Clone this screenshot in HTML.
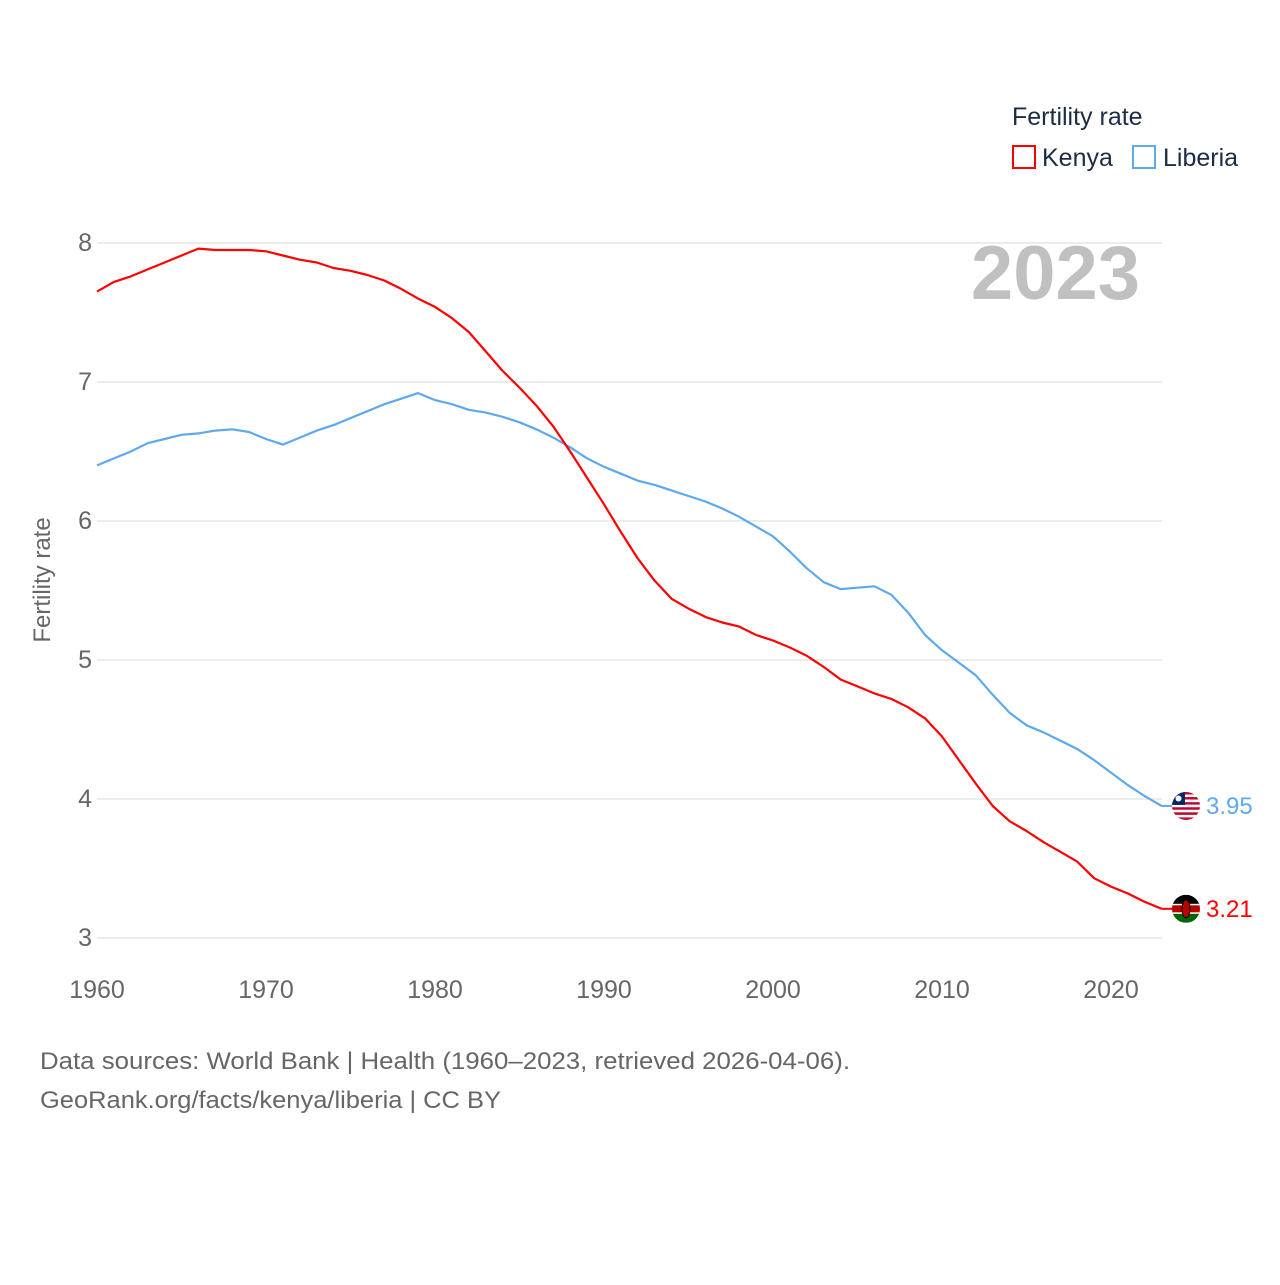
<!DOCTYPE html>
<html><head><meta charset="utf-8">
<style>
html,body{margin:0;padding:0;background:#fff;}
body{width:1280px;height:1280px;overflow:hidden;font-family:"Liberation Sans",sans-serif;}
svg text{font-family:"Liberation Sans",sans-serif;}
</style></head>
<body>
<svg id="chart" width="1280" height="1280" viewBox="0 0 1280 1280" xmlns="http://www.w3.org/2000/svg">
  <g id="grid"></g>
  <g id="yticks"></g>
  <g id="xticks"></g>
  <text x="50" y="580" transform="rotate(-90 50 580)" text-anchor="middle" font-size="24" fill="#666">Fertility rate</text>
  <text x="1140" y="299" text-anchor="end" font-size="76" font-weight="bold" fill="#c0c0c0">2023</text>
  <g>
    <text x="1012" y="125" font-size="25" fill="#1d2b45">Fertility rate</text>
    <g>
      <rect x="1013" y="146" width="22" height="22" fill="none" stroke="#ff0000" stroke-width="2"/>
      <text x="1042" y="166" font-size="25" fill="#1d2b45">Kenya</text>
    </g>
    <g>
      <rect x="1133" y="146" width="22" height="22" fill="none" stroke="#5ea8ee" stroke-width="2"/>
      <text x="1163" y="166" font-size="25" fill="#1d2b45">Liberia</text>
    </g>
  </g>
  <g id="series"></g>
  <g id="endlabels"></g>
  <text x="40" y="1069" font-size="24" fill="#666" textLength="810" lengthAdjust="spacingAndGlyphs">Data sources: World Bank | Health (1960–2023, retrieved 2026-04-06).</text>
  <text x="40" y="1108" font-size="24" fill="#666" textLength="461" lengthAdjust="spacingAndGlyphs">GeoRank.org/facts/kenya/liberia | CC BY</text>
</svg>
<script>
const years = [];
for (let y = 1960; y <= 2023; y++) years.push(y);
const kenya = [7.65,7.72,7.76,7.81,7.86,7.91,7.96,7.95,7.95,7.95,7.94,7.91,7.88,7.86,7.82,7.80,7.77,7.73,7.67,7.60,7.54,7.46,7.36,7.22,7.08,6.96,6.83,6.68,6.50,6.31,6.12,5.92,5.73,5.57,5.44,5.37,5.31,5.27,5.24,5.18,5.14,5.09,5.03,4.95,4.86,4.81,4.76,4.72,4.66,4.58,4.45,4.28,4.11,3.95,3.84,3.77,3.69,3.62,3.55,3.43,3.37,3.32,3.26,3.21];
const liberia = [6.40,6.45,6.50,6.56,6.59,6.62,6.63,6.65,6.66,6.64,6.59,6.55,6.60,6.65,6.69,6.74,6.79,6.84,6.88,6.92,6.87,6.84,6.80,6.78,6.75,6.71,6.66,6.60,6.53,6.45,6.39,6.34,6.29,6.26,6.22,6.18,6.14,6.09,6.03,5.96,5.89,5.78,5.66,5.56,5.51,5.52,5.53,5.47,5.34,5.18,5.07,4.98,4.89,4.75,4.62,4.53,4.48,4.42,4.36,4.28,4.19,4.10,4.02,3.95];
const yTicks = [3,4,5,6,7,8];
const xTicks = [1960,1970,1980,1990,2000,2010,2020];

const NS = "http://www.w3.org/2000/svg";
const xScale = v => 97 + (v - 1960) * (1111 - 97) / 60;
const yScale = v => 938 - (v - 3) * (938 - 243) / 5;
function mk(tag, attrs, parent) {
  const e = document.createElementNS(NS, tag);
  for (const k in attrs) e.setAttribute(k, attrs[k]);
  parent.appendChild(e);
  return e;
}
const grid = document.getElementById('grid');
const yt = document.getElementById('yticks');
yTicks.forEach(t => {
  const l = mk('line', {x1: 97, x2: 1162, y1: yScale(t), y2: yScale(t), stroke: '#e6e6e6', 'stroke-width': 1.5}, grid);
  
  
  const tx = mk('text', {x: 92, y: yScale(t) + 8, 'text-anchor': 'end', 'font-size': 25, fill: '#666'}, yt);
  tx.textContent = t;
  
  
});
const xt = document.getElementById('xticks');
xTicks.forEach(t => {
  const tx = mk('text', {x: xScale(t), y: 998, 'text-anchor': 'middle', 'font-size': 25, fill: '#666'}, xt);
  tx.textContent = t;
  
  
});
const ser = document.getElementById('series');
function line(vals, color, name) {
  const d = vals.map((v, i) => (i ? 'L' : 'M') + xScale(years[i]).toFixed(1) + ',' + yScale(v).toFixed(1)).join(' ');
  const p = mk('path', {d: d, fill: 'none', stroke: color, 'stroke-width': 2.2, 'stroke-linejoin': 'round'}, ser);
  
  
}
line(liberia, '#5ea8ee', 'liberia-line');
line(kenya, '#ff0000', 'kenya-line');

const el = document.getElementById('endlabels');
function endLabel(vals, color, name, flag) {
  const v = vals[vals.length - 1];
  const x = xScale(years[years.length - 1]), y = yScale(v);
  const g = mk('g', {}, el);
  
  
  mk('line', {x1: x, x2: x + 12, y1: y, y2: y, stroke: color, 'stroke-width': 2}, g);
  const cx = 1186;
  const clipId = 'clip-' + name;
  const cp = mk('clipPath', {id: clipId}, g);
  mk('circle', {cx: cx, cy: y, r: 14}, cp);
  const fg = mk('g', {'clip-path': 'url(#' + clipId + ')'}, g);
  if (flag === 'lr') {
    for (let i = 0; i < 11; i++) mk('rect', {x: cx - 14, y: y - 14 + i * 28 / 11, width: 28, height: 28 / 11 + 0.2, fill: i % 2 ? '#fff' : '#bf0a30'}, fg);
    mk('rect', {x: cx - 14, y: y - 14, width: 13, height: 13, fill: '#002868'}, fg);
    mk('circle', {cx: cx - 7.5, cy: y - 7.5, r: 3, fill: '#fff'}, fg);
  } else {
    mk('rect', {x: cx - 14, y: y - 14, width: 28, height: 10, fill: '#000'}, fg);
    mk('rect', {x: cx - 14, y: y - 4, width: 28, height: 8, fill: '#bb0000'}, fg);
    mk('rect', {x: cx - 14, y: y + 4, width: 28, height: 10, fill: '#006600'}, fg);
    mk('rect', {x: cx - 14, y: y - 5, width: 28, height: 1.5, fill: '#fff'}, fg);
    mk('rect', {x: cx - 14, y: y + 3.5, width: 28, height: 1.5, fill: '#fff'}, fg);
    mk('ellipse', {cx: cx, cy: y, rx: 4, ry: 9, fill: '#bb0000', stroke: '#000', 'stroke-width': 1}, fg);
  }
  const t = mk('text', {x: 1206, y: y + 8, 'font-size': 24, fill: color}, g);
  t.textContent = v.toFixed(2);
}
endLabel(liberia, '#5ea8ee', 'liberia-end-label', 'lr');
endLabel(kenya, '#ff0000', 'kenya-end-label', 'ke');
</script>
</body></html>
